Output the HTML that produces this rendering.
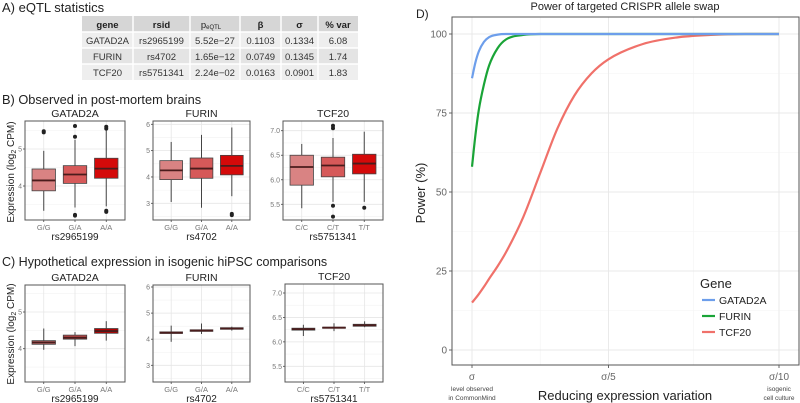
<!DOCTYPE html>
<html><head><meta charset="utf-8">
<style>
html,body{margin:0;padding:0;background:#fff;}
svg{display:block;font-family:"Liberation Sans",sans-serif;}
</style></head>
<body>
<svg id="fig" width="800" height="403" viewBox="0 0 800 403" xmlns="http://www.w3.org/2000/svg">
  <g>
    <text x="2" y="12" font-size="13" fill="#222">A)  eQTL statistics</text>
    <rect x="82" y="16" width="276" height="16" fill="#d6d6d6"/>
    <rect x="82" y="32" width="276" height="16" fill="#eeeeee"/>
    <rect x="82" y="48" width="276" height="16" fill="#e4e4e4"/>
    <rect x="82" y="64" width="276" height="16" fill="#eeeeee"/>
    <g stroke="#fff" stroke-width="1.5">
      <line x1="133" y1="16" x2="133" y2="80"/><line x1="190" y1="16" x2="190" y2="80"/>
      <line x1="240" y1="16" x2="240" y2="80"/><line x1="281" y1="16" x2="281" y2="80"/>
      <line x1="318" y1="16" x2="318" y2="80"/>
      <line x1="82" y1="32" x2="358" y2="32"/><line x1="82" y1="48" x2="358" y2="48"/><line x1="82" y1="64" x2="358" y2="64"/>
    </g>
    <g font-size="9.5" fill="#222" text-anchor="middle" font-weight="bold">
      <text x="107.5" y="28">gene</text><text x="161.5" y="28">rsid</text>
      <text x="211" y="28" font-weight="normal">p<tspan font-size="6" dy="1">eQTL</tspan></text>
      <text x="260.5" y="28">β</text><text x="299.5" y="28">σ</text><text x="338" y="28">% var</text>
    </g>
    <g font-size="9.5" fill="#333" text-anchor="middle">
      <text x="107.5" y="44">GATAD2A</text><text x="161.5" y="44">rs2965199</text><text x="215" y="44">5.52e−27</text><text x="260.5" y="44">0.1103</text><text x="299.5" y="44">0.1334</text><text x="338" y="44">6.08</text>
      <text x="107.5" y="60">FURIN</text><text x="161.5" y="60">rs4702</text><text x="215" y="60">1.65e−12</text><text x="260.5" y="60">0.0749</text><text x="299.5" y="60">0.1345</text><text x="338" y="60">1.74</text>
      <text x="107.5" y="76">TCF20</text><text x="161.5" y="76">rs5751341</text><text x="215" y="76">2.24e−02</text><text x="260.5" y="76">0.0163</text><text x="299.5" y="76">0.0901</text><text x="338" y="76">1.83</text>
    </g>
  </g>
  <text x="2" y="104" font-size="12.8" fill="#222">B)  Observed in post-mortem brains</text>
  <text x="2" y="266" font-size="12.5" fill="#222">C)  Hypothetical expression in isogenic hiPSC comparisons</text>
  <text transform="translate(14,172) rotate(-90)" font-size="10" fill="#222" text-anchor="middle">Expression (log<tspan font-size="7" dy="2">2</tspan><tspan dy="-2"> CPM)</tspan></text>
  <text transform="translate(14,334) rotate(-90)" font-size="10" fill="#222" text-anchor="middle">Expression (log<tspan font-size="7" dy="2">2</tspan><tspan dy="-2"> CPM)</tspan></text>
  <g id="boxes"></g>
  <g id="panelD"></g>
</svg>
<script>
// ---------- Box plot data ----------
const genes = ["GATAD2A","FURIN","TCF20"];
const snps = ["rs2965199","rs4702","rs5751341"];
const genoGATAD2A = ["G/G","G/A","A/A"];
const genoFURIN = ["G/G","G/A","A/A"];
const genoTCF20 = ["C/C","C/T","T/T"];
const ticksGATAD2A = [4,5];
const ticksFURIN = [3,4,5,6];
const ticksTCF20 = [5.5,6.0,6.5,7.0];

// Panel B (observed)
const bGATAD2A_lo = [3.33,3.42,3.45], bGATAD2A_q1 = [3.87,4.07,4.21], bGATAD2A_med = [4.15,4.31,4.47], bGATAD2A_q3 = [4.46,4.55,4.75], bGATAD2A_hi = [4.95,5.25,5.5];
const bGATAD2A_out = [[5.45,5.48],[5.33,5.62,3.22,3.2],[5.55,5.6,3.3,3.33]];
const bFURIN_lo = [3.05,2.83,3.27], bFURIN_q1 = [3.9,3.95,4.08], bFURIN_med = [4.25,4.32,4.42], bFURIN_q3 = [4.62,4.72,4.82], bFURIN_hi = [5.33,5.6,5.88];
const bFURIN_out = [[],[],[2.6,2.55]];
const bTCF20_lo = [5.42,5.55,5.55], bTCF20_q1 = [5.89,6.06,6.12], bTCF20_med = [6.26,6.29,6.33], bTCF20_q3 = [6.5,6.46,6.52], bTCF20_hi = [6.73,6.85,6.98];
const bTCF20_out = [[],[7.05,7.1,5.47,5.25],[5.43]];

// Panel C (hypothetical)
const cGATAD2A_lo = [3.97,4.07,4.22], cGATAD2A_q1 = [4.12,4.26,4.42], cGATAD2A_med = [4.17,4.3,4.48], cGATAD2A_q3 = [4.22,4.37,4.55], cGATAD2A_hi = [4.55,4.45,4.75];
const cFURIN_lo = [3.9,4.2,4.33], cFURIN_q1 = [4.22,4.3,4.38], cFURIN_med = [4.25,4.33,4.41], cFURIN_q3 = [4.28,4.36,4.44], cFURIN_hi = [4.52,4.6,4.48];
const cTCF20_lo = [6.12,6.22,6.3], cTCF20_q1 = [6.24,6.285,6.32], cTCF20_med = [6.26,6.29,6.34], cTCF20_q3 = [6.28,6.3,6.36], cTCF20_hi = [6.35,6.38,6.42];

// ---------- Panel D data ----------
const divisors = [1,1.1,1.2,1.35,1.5,1.75,2,2.5,3,3.5,4,4.5,5,6,7,8,9,10];
const powerGATAD2A = [86,91,94.5,97.5,99,99.8,100,100,100,100,100,100,100,100,100,100,100,100];
const powerFURIN = [58,68,76,84,90,95.5,98.3,99.7,100,100,100,100,100,100,100,100,100,100];
const powerTCF20 = [15,16.3,17.7,20,22.5,26.5,31,42,56,70,80.5,87.5,92,96.8,98.9,99.7,100,100];
const powerTicks = [0,25,50,75,100];
const legendGenes = ["GATAD2A","FURIN","TCF20"];

const NS = "http://www.w3.org/2000/svg";
function mk(tag, attrs, parent){const e=document.createElementNS(NS,tag);for(const k in attrs)e.setAttribute(k,attrs[k]);parent.appendChild(e);return e;}

const boxesG = document.getElementById("boxes");
function drawPanel(geom, title, cats, ticks, snp, lo, q1, med, q3, hi, out, fills, id){
  const g = mk("g",{},boxesG);
  
  
  const y = v => geom.p1 + (v-geom.v1)*(geom.p2-geom.p1)/(geom.v2-geom.v1);
  const step = (geom.x1-geom.x0)/3.2;
  const x = i => geom.x0 + step*(0.6+i);
  const tstep = ticks[1]-ticks[0];
  for(let v=ticks[0]-tstep/2; v<=ticks[ticks.length-1]+tstep; v+=tstep){
    const py=y(v); if(py>geom.y0 && py<geom.y1) mk("line",{x1:geom.x0,x2:geom.x1,y1:py,y2:py,stroke:"#f2f2f2","stroke-width":0.6},g);
  }
  ticks.forEach(t=>{const py=y(t);mk("line",{x1:geom.x0,x2:geom.x1,y1:py,y2:py,stroke:"#e6e6e6","stroke-width":0.8},g);
    mk("line",{x1:geom.x0-2,x2:geom.x0,y1:py,y2:py,stroke:"#444","stroke-width":0.8},g);
    const t2=mk("text",{x:geom.x0-3,y:py+2.5,"font-size":7,fill:"#777","text-anchor":"end"},g);
    t2.textContent = ticks===ticksTCF20 ? t.toFixed(1) : String(t);
    
    
  });
  cats.forEach((c,i)=>{mk("line",{x1:x(i),x2:x(i),y1:geom.y0,y2:geom.y1,stroke:"#e6e6e6","stroke-width":0.8},g);});
  const bw = step*0.75;
  cats.forEach((c,i)=>{
    const bx = mk("g",{},g);
    
    
    mk("line",{x1:x(i),x2:x(i),y1:y(hi[i]),y2:y(lo[i]),stroke:"#444","stroke-width":1},bx);
    mk("rect",{x:x(i)-bw/2,y:y(q3[i]),width:bw,height:Math.max(1,y(q1[i])-y(q3[i])),fill:fills[i],stroke:"#444","stroke-width":0.8},bx);
    mk("line",{x1:x(i)-bw/2,x2:x(i)+bw/2,y1:y(med[i]),y2:y(med[i]),stroke:"#4a1c1c","stroke-width":1.8},bx);
    if(out) out[i].forEach(o=>{const c2=mk("circle",{cx:x(i),cy:y(o),r:2,fill:"#222"},bx);
      
      });
    mk("line",{x1:x(i),x2:x(i),y1:geom.y1,y2:geom.y1+2,stroke:"#444","stroke-width":0.8},g);
    const tl=mk("text",{x:x(i),y:geom.y1+10,"font-size":7.5,fill:"#777","text-anchor":"middle"},g);
    tl.textContent=c;
    
    
  });
  mk("rect",{x:geom.x0,y:geom.y0,width:geom.x1-geom.x0,height:geom.y1-geom.y0,fill:"none",stroke:"#555","stroke-width":1},g);
  const tt=mk("text",{x:(geom.x0+geom.x1)/2,y:geom.y0-4,"font-size":10.5,fill:"#222","text-anchor":"middle"},g);
  tt.textContent=title;
  
  
  const xt=mk("text",{x:(geom.x0+geom.x1)/2,y:geom.y1+20,"font-size":10,fill:"#222","text-anchor":"middle"},g);
  xt.textContent=snp;
  
  
}
const fillsB = ["#d98383","#d65959","#d40a0a"];
const fillsC = ["#c87474","#c24b4b","#b50000"];
drawPanel({x0:25,x1:125,y0:121,y1:220,v1:5,p1:149,v2:4,p2:186},genes[0],genoGATAD2A,ticksGATAD2A,snps[0],bGATAD2A_lo,bGATAD2A_q1,bGATAD2A_med,bGATAD2A_q3,bGATAD2A_hi,bGATAD2A_out,fillsB,"b-gatad2a");
drawPanel({x0:153,x1:250,y0:121,y1:220,v1:6,p1:124.3,v2:3,p2:203.3},genes[1],genoFURIN,ticksFURIN,snps[1],bFURIN_lo,bFURIN_q1,bFURIN_med,bFURIN_q3,bFURIN_hi,bFURIN_out,fillsB,"b-furin");
drawPanel({x0:283,x1:383,y0:121,y1:220,v1:7,p1:130.7,v2:5.5,p2:204.3},genes[2],genoTCF20,ticksTCF20,snps[2],bTCF20_lo,bTCF20_q1,bTCF20_med,bTCF20_q3,bTCF20_hi,bTCF20_out,fillsB,"b-tcf20");
drawPanel({x0:25,x1:125,y0:285,y1:382,v1:5,p1:312,v2:4,p2:348.7},genes[0],genoGATAD2A,ticksGATAD2A,snps[0],cGATAD2A_lo,cGATAD2A_q1,cGATAD2A_med,cGATAD2A_q3,cGATAD2A_hi,null,fillsC,"c-gatad2a");
drawPanel({x0:153,x1:250,y0:285,y1:382,v1:6,p1:287,v2:3,p2:365.3},genes[1],genoFURIN,ticksFURIN,snps[1],cFURIN_lo,cFURIN_q1,cFURIN_med,cFURIN_q3,cFURIN_hi,null,fillsC,"c-furin");
drawPanel({x0:285,x1:383,y0:284,y1:382,v1:7,p1:293,v2:5.5,p2:366.3},genes[2],genoTCF20,ticksTCF20,snps[2],cTCF20_lo,cTCF20_q1,cTCF20_med,cTCF20_q3,cTCF20_hi,null,fillsC,"c-tcf20");

// ---------- Panel D ----------
(function(){
  const g = document.getElementById("panelD");
  
  
  const L=452,R=799,T=17,B=365;
  const xs = k => 472 + (k-1)*(779-472)/9;
  const ys = v => 350 - v*(350-34)/100;
  for(let v=12.5; v<=112.5; v+=25){const py=ys(v); if(py>T) mk("line",{x1:L,x2:R,y1:py,y2:py,stroke:"#f3f3f3","stroke-width":0.6},g);}
  [ (1+5)/2, (5+10)/2 ].forEach(k=>mk("line",{x1:xs(k),x2:xs(k),y1:T,y2:B,stroke:"#f3f3f3","stroke-width":0.6},g));
  powerTicks.forEach(v=>{const py=ys(v);
    mk("line",{x1:L,x2:R,y1:py,y2:py,stroke:"#e8e8e8","stroke-width":0.9},g);
    mk("line",{x1:L-3,x2:L,y1:py,y2:py,stroke:"#444","stroke-width":0.8},g);
    const t=mk("text",{x:L-5,y:py+3.5,"font-size":10,fill:"#666","text-anchor":"end"},g);
    t.textContent=String(v);
    
    
  });
  const xticks=[[1,"σ"],[5,"σ/5"],[10,"σ/10"]];
  xticks.forEach(([k,l])=>{const px=xs(k);
    mk("line",{x1:px,x2:px,y1:T,y2:B,stroke:"#e8e8e8","stroke-width":0.9},g);
    mk("line",{x1:px,x2:px,y1:B,y2:B+3,stroke:"#444","stroke-width":0.8},g);
    const t=mk("text",{x:px,y:B+15,"font-size":10,fill:"#666","text-anchor":"middle"},g);
    t.textContent=l;
    
    
  });
  function sub(x,lines,name){lines.forEach((s,i)=>{const t=mk("text",{x:x,y:391+i*9,"font-size":6.5,fill:"#444","text-anchor":"middle"},g);t.textContent=s;
    
    });}
  sub(xs(1),["level observed","in CommonMind"],"x-sublabel-commonmind");
  sub(xs(10),["isogenic","cell culture"],"x-sublabel-isogenic");
  const colors=["#6d9eeb","#1aa437","#f0716a"];
  const series=[powerGATAD2A,powerFURIN,powerTCF20];
  // monotone cubic (Fritsch-Carlson)
  function pathFor(vals){
    const X=divisors.map(xs), Y=vals.map(ys), n=X.length;
    const d=[],m=new Array(n);
    for(let i=0;i<n-1;i++) d.push((Y[i+1]-Y[i])/(X[i+1]-X[i]));
    m[0]=d[0]; m[n-1]=d[n-2];
    for(let i=1;i<n-1;i++){ m[i]=(d[i-1]*d[i]<=0)?0:(d[i-1]+d[i])/2; }
    for(let i=0;i<n-1;i++){
      if(d[i]===0){m[i]=0;m[i+1]=0;continue;}
      const a=m[i]/d[i], b=m[i+1]/d[i], s=a*a+b*b;
      if(s>9){const t=3/Math.sqrt(s); m[i]=t*a*d[i]; m[i+1]=t*b*d[i];}
    }
    let p="M"+X[0]+","+Y[0];
    for(let i=0;i<n-1;i++){
      const h=(X[i+1]-X[i])/3;
      p+=" C"+(X[i]+h)+","+(Y[i]+m[i]*h)+" "+(X[i+1]-h)+","+(Y[i+1]-m[i+1]*h)+" "+X[i+1]+","+Y[i+1];
    }
    return p;
  }
  [2,1,0].forEach(i=>{const p=mk("path",{d:pathFor(series[i]),fill:"none",stroke:colors[i],"stroke-width":2.2},g);
    
    });
  mk("rect",{x:L,y:T,width:R-L,height:B-T,fill:"none",stroke:"#555","stroke-width":1},g);
  const lg=mk("g",{},g);
  
  
  const lt=mk("text",{x:700,y:288,"font-size":13,fill:"#222"},lg);lt.textContent="Gene";
  legendGenes.forEach((n,i)=>{const yy=300+i*16;
    const e=mk("g",{},lg);
    
    
    mk("line",{x1:702,x2:715,y1:yy,y2:yy,stroke:colors[i],"stroke-width":2.2},e);
    const t=mk("text",{x:719,y:yy+4,"font-size":10.5,fill:"#222"},e);t.textContent=n;});
  const tt=mk("text",{x:625,y:10,"font-size":11,fill:"#222","text-anchor":"middle"},g);tt.textContent="Power of targeted CRISPR allele swap";
  
  
  const dl=mk("text",{x:416,y:18,"font-size":12,fill:"#222"},g);dl.textContent="D)";
  
  
  const yt=mk("text",{transform:"translate(425,193) rotate(-90)","font-size":13,fill:"#222","text-anchor":"middle"},g);yt.textContent="Power (%)";
  
  
  const xt=mk("text",{x:625,y:400,"font-size":13,fill:"#222","text-anchor":"middle"},g);xt.textContent="Reducing expression variation";
  
  
})();
</script>
</body></html>
